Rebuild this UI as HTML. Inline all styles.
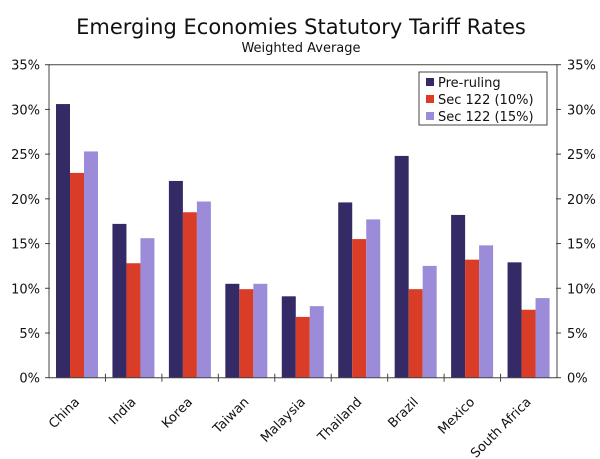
<!DOCTYPE html>
<html><head><meta charset="utf-8"><style>
html,body{margin:0;padding:0;background:#fff}
svg{display:block;font-family:"DejaVu Sans","Liberation Sans",sans-serif}
</style></head><body>
<svg id="chart" width="600" height="459" viewBox="0 0 600 459" xmlns="http://www.w3.org/2000/svg">
<text x="301" y="34" text-anchor="middle" font-size="21" fill="#111">Emerging Economies Statutory Tariff Rates</text>
<text x="301" y="52" text-anchor="middle" font-size="13" fill="#111">Weighted Average</text>
<g id="plot"></g>
<g>
<rect x="419" y="72" width="128" height="53" fill="#fff" stroke="#444" stroke-width="1"/>
<rect x="426" y="78" width="8" height="8" fill="#332a66"/>
<text x="438" y="87" font-size="13" fill="#111">Pre-ruling</text>
<rect x="426" y="95" width="8" height="8" fill="#d93d27"/>
<text x="438" y="104" font-size="13" fill="#111">Sec 122 (10%)</text>
<rect x="426" y="112" width="8" height="8" fill="#9b8bd9"/>
<text x="438" y="121" font-size="13" fill="#111">Sec 122 (15%)</text>
</g>
</svg>
<script>
const categories = ["China","India","Korea","Taiwan","Malaysia","Thailand","Brazil","Mexico","South Africa"];
const preRuling = [30.6,17.2,22.0,10.5,9.1,19.6,24.8,18.2,12.9];
const sec122_10 = [22.9,12.8,18.5,9.9,6.8,15.5,9.9,13.2,7.6];
const sec122_15 = [25.3,15.6,19.7,10.5,8.0,17.7,12.5,14.8,8.9];
const yTicks = [0,5,10,15,20,25,30,35];

const NS="http://www.w3.org/2000/svg";
const L=49,R=557,T=64.7,B=377.7,YMAX=35;
const y=v=>B-(v/YMAX)*(B-T);
const gw=(R-L)/categories.length;
const gx=i=>L+i*gw;
const g=document.getElementById('plot');
function mk(tag,attrs){const e=document.createElementNS(NS,tag);for(const k in attrs)e.setAttribute(k,attrs[k]);g.appendChild(e);return e;}

const series=[[preRuling,"#332a66","pre-ruling"],[sec122_10,"#d93d27","sec122-10"],[sec122_15,"#9b8bd9","sec122-15"]];
const bw=14;
categories.forEach((c,i)=>{
  series.forEach((s,j)=>{
    const v=s[0][i];
    const r=mk('rect',{x:gx(i)+7+j*bw,y:y(v),width:bw,height:B-y(v),fill:s[1]});
    
    
  });
  const cx=gx(i)+gw/2;
  const t=mk('text',{x:0,y:0,'font-size':13,fill:'#111','text-anchor':'end',transform:`translate(${cx+3},${B+25}) rotate(-45)`});
  t.textContent=c;
  
  
});
[[L,T,R,T],[L,T,L,B],[R,T,R,B],[L,B,R,B]].forEach(a=>{
  const l=mk('line',{x1:a[0],y1:a[1],x2:a[2],y2:a[3],stroke:'#444','stroke-width':1});
  
  
});
yTicks.forEach(v=>{
  const yy=y(v);
  mk('line',{x1:L-4,y1:yy,x2:L+1,y2:yy,stroke:'#444'});
  mk('line',{x1:R-1,y1:yy,x2:R+4,y2:yy,stroke:'#444'});
  const t1=mk('text',{x:L-9,y:yy+5,'font-size':13,fill:'#111','text-anchor':'end'});
  t1.textContent=v+'%';
  
  
  const t2=mk('text',{x:R+10,y:yy+5,'font-size':13,fill:'#111','text-anchor':'start'});
  t2.textContent=v+'%';
  
  
});
for(let i=1;i<categories.length;i++){
  mk('line',{x1:gx(i),y1:B-4,x2:gx(i),y2:B+4,stroke:'#444'});
}
</script>
</body></html>
